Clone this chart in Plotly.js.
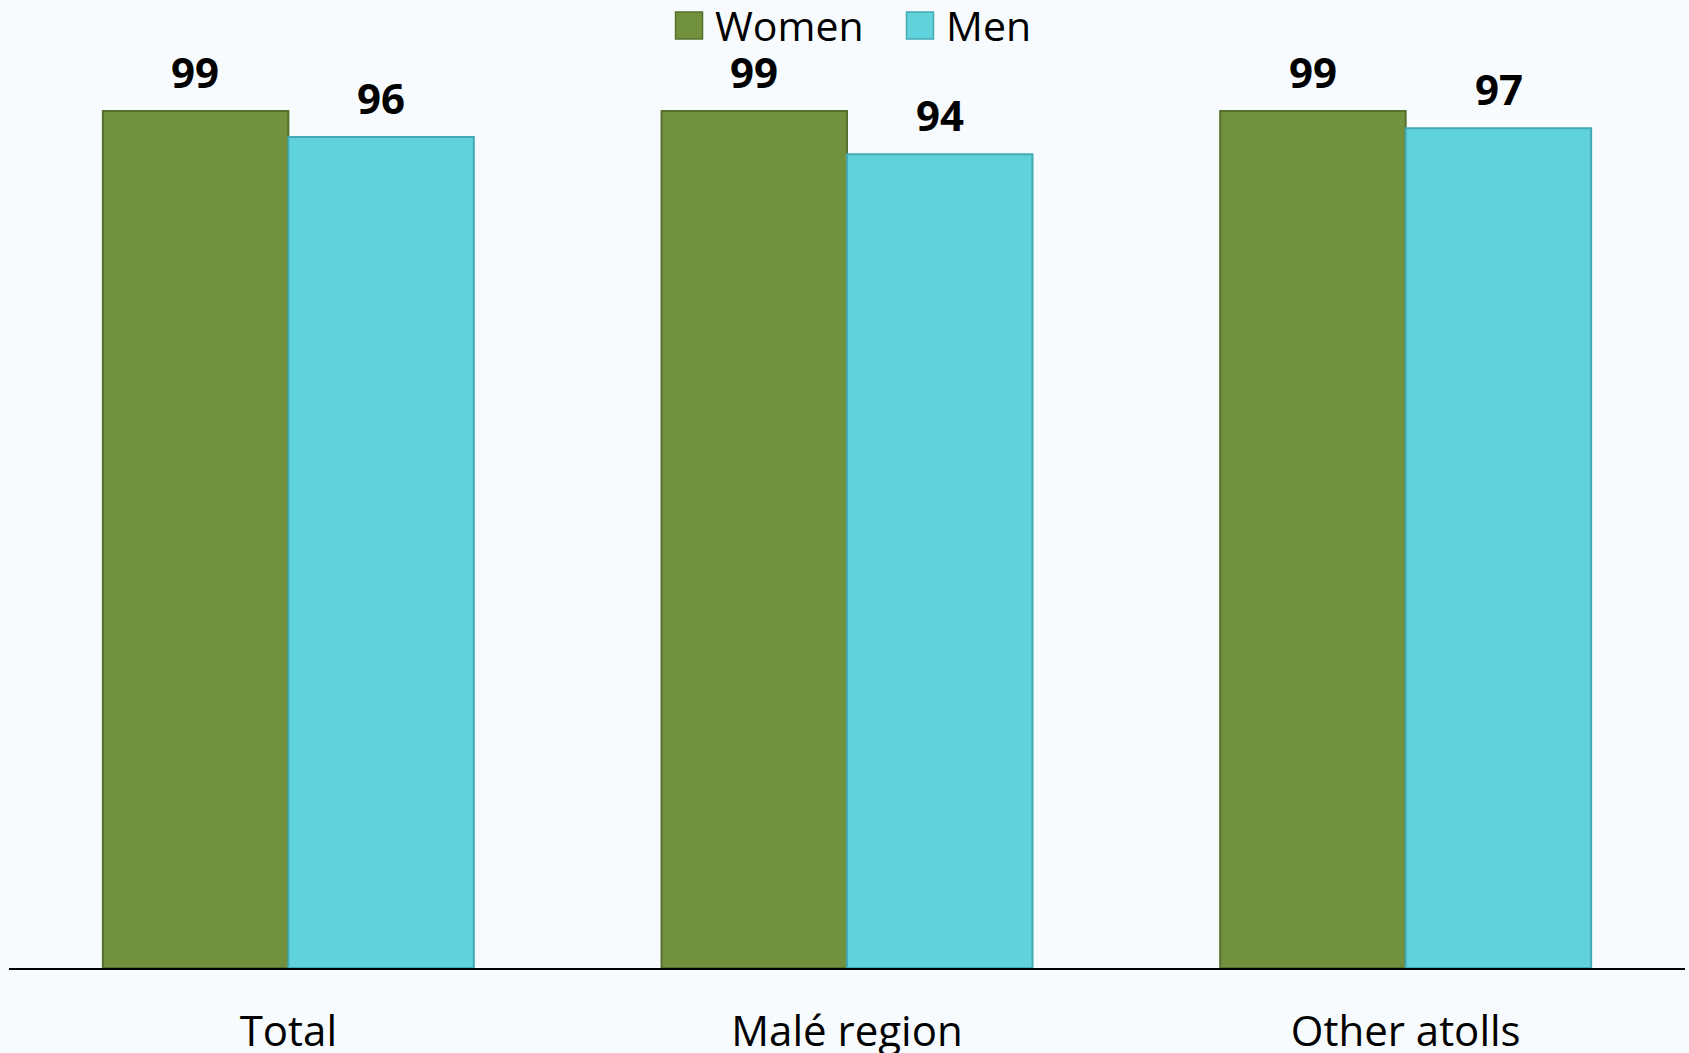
<!DOCTYPE html>
<html>
<head>
<meta charset="utf-8">
<script src="https://cdn.plot.ly/plotly-3.0.1.min.js"></script>
<style>
html,body{margin:0;padding:0;background:#F7FBFD;}
#chart{width:1689px;height:1053px;}
</style>
</head>
<body>
<div id="chart"></div>
<script>
const categories = ["Total", "Malé region", "Other atolls"];
const seriesNames = ["Women", "Men"];
const women = [99, 99, 99];
const men = [96, 94, 97];

const colors = ["#71913F", "#5FD2DC"];
const edgeColors = ["#56702D", "#43A9B3"];
const seriesValues = [women, men];

const traces = seriesValues.map((vals, i) => ({
  type: "bar",
  name: seriesNames[i],
  x: categories,
  y: vals,
  marker: {color: colors[i], line: {color: edgeColors[i], width: 2}},
  showlegend: false,
  hoverinfo: "x+y"
}));

const annotations = [];
seriesValues.forEach((vals, i) => {
  vals.forEach((v, j) => {
    annotations.push({
      x: categories[j], y: v, xref: "x", yref: "y",
      text: "<b>" + v + "</b>", showarrow: false,
      xshift: i === 0 ? -93 : 93, yanchor: "bottom", yshift: 9,
      font: {family: "Open Sans, sans-serif", size: 42, color: "#000"}
    });
  });
});

// custom legend
const legendX = [0.3977, 0.5355];
const shapes = [];
seriesNames.forEach((n, i) => {
  shapes.push({
    type: "rect", xref: "paper", yref: "paper",
    x0: legendX[i], x1: legendX[i] + 0.0161, y0: 0.9936, y1: 1.0225,
    fillcolor: colors[i], line: {color: edgeColors[i], width: 1.5}
  });
  annotations.push({
    xref: "paper", yref: "paper", x: legendX[i] + 0.0225, y: 1.0086,
    xanchor: "left", yanchor: "middle", showarrow: false, text: n,
    font: {family: "Open Sans, sans-serif", size: 41, color: "#000"}
  });
});

const layout = {
  width: 1689, height: 1053,
  paper_bgcolor: "#F7FBFD", plot_bgcolor: "#F7FBFD",
  margin: {l: 9, r: 4, t: 33, b: 85},
  barmode: "group", bargap: 0.336, bargroupgap: 0,
  xaxis: {
    type: "category", showline: true, linecolor: "#000", linewidth: 1.5,
    ticks: "", tickfont: {family: "Open Sans, sans-serif", size: 42, color: "#000"},
    ticklabelstandoff: 26, showgrid: false, zeroline: false
  },
  yaxis: {range: [0, 108], visible: false, showgrid: false, zeroline: false},
  annotations: annotations,
  shapes: shapes,
  showlegend: false
};

Plotly.newPlot("chart", traces, layout, {displayModeBar: false, staticPlot: true});
</script>
</body>
</html>
